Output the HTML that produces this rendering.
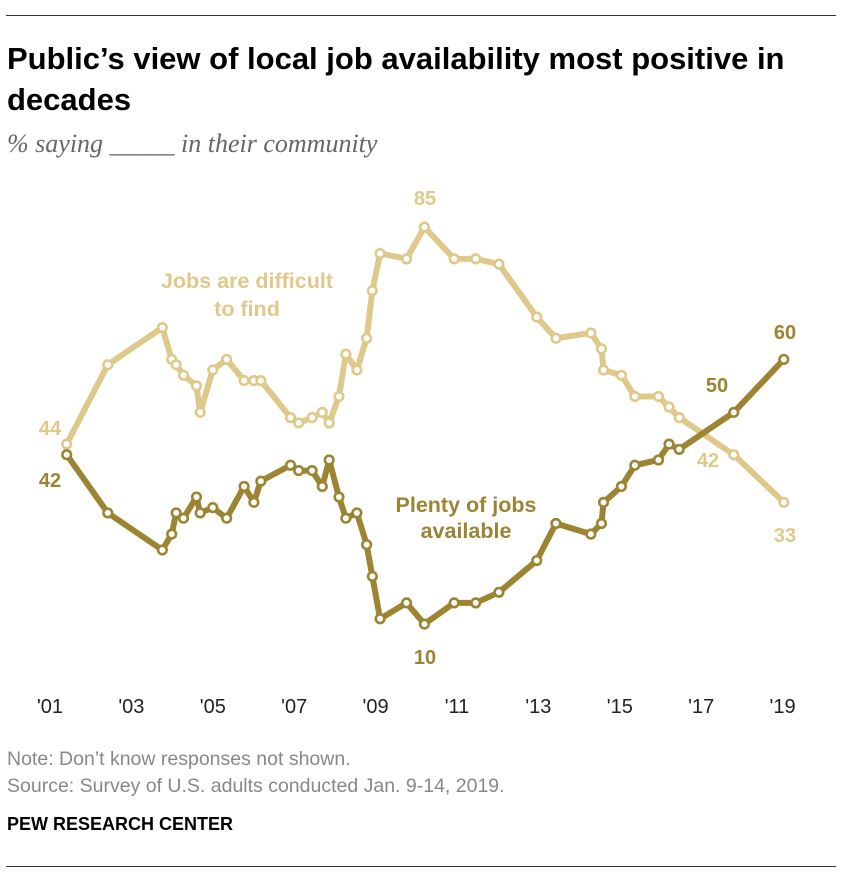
<!DOCTYPE html>
<html><head><meta charset="utf-8"><style>
body{margin:0;background:#fff;font-family:"Liberation Sans",sans-serif;}
#wrap{position:relative;width:842px;height:884px;overflow:hidden;}
.t{position:absolute;white-space:nowrap;}
</style></head><body>
<div id="wrap">
<div style="position:absolute;left:6px;right:6px;top:15px;border-top:1px solid #333"></div>
<div class="t" style="left:7px;top:38px;font-size:31px;font-weight:bold;line-height:41px;color:#000">Public’s view of local job availability most positive in<br>decades</div>
<div class="t" style="left:7px;top:129px;font-family:'Liberation Serif',serif;font-style:italic;font-size:26px;color:#666">% saying _____ in their community</div>
<svg id="chart" width="842" height="884" style="position:absolute;left:0;top:0"></svg>
<div class="t" style="left:7px;top:748px;font-size:19.5px;color:#888">Note: Don’t know responses not shown.</div>
<div class="t" style="left:7px;top:775px;font-size:19.5px;color:#888">Source: Survey of U.S. adults conducted Jan. 9-14, 2019.</div>
<div class="t" style="left:7px;top:814px;font-size:18px;font-weight:bold;color:#000">PEW RESEARCH CENTER</div>
<div style="position:absolute;left:6px;right:6px;top:866px;border-top:1px solid #333"></div>
</div>
<script>
const dates=[2001.41,2002.42,2003.76,2003.99,2004.10,2004.28,2004.6,2004.69,2005.0,2005.34,2005.77,2006.01,2006.18,2006.91,2007.11,2007.44,2007.69,2007.86,2008.1,2008.27,2008.54,2008.78,2008.92,2009.11,2009.76,2010.2,2010.93,2011.46,2012.03,2012.96,2013.43,2014.29,2014.55,2014.6,2015.04,2015.37,2015.95,2016.21,2016.46,2017.8,2019.03];
const difficult=[44,59,66,60,59,57,55,50,58,60,56,56,56,49,48,49,50,48,53,61,58,64,73,80,79,85,79,79,78,68,64,65,62,58,57,53,53,51,49,42,33];
const plenty=[42,31,24,27,31,30,34,31,32,30,36,33,37,40,39,39,36,41,34,30,31,25,19,11,14,10,14,14,16,22,29,27,29,33,36,40,41,44,43,50,60];
const tickLabels=["'01","'03","'05","'07","'09","'11","'13","'15","'17","'19"];
const tickYears=[2001,2003,2005,2007,2009,2011,2013,2015,2017,2019];
const NS="http://www.w3.org/2000/svg";
const svg=document.getElementById('chart');
const xs=yr=>50+(yr-2001)*40.7;
const ys=v=>677-v*5.293;
function mk(tag,attrs){const e=document.createElementNS(NS,tag);for(const k in attrs)e.setAttribute(k,attrs[k]);svg.appendChild(e);return e;}
tickLabels.forEach((l,i)=>{
  const t=mk('text',{x:xs(tickYears[i]),y:713,'text-anchor':'middle','font-size':20,fill:'#222','font-family':'Liberation Sans, sans-serif'});
  t.textContent=l;
  
  
});
function series(vals,color,name){
  const pts=vals.map((v,i)=>xs(dates[i])+','+ys(v)).join(' ');
  const pl=mk('polyline',{points:pts,fill:'none',stroke:color,'stroke-width':6,'stroke-linejoin':'round'});
  
  
  vals.forEach((v,i)=>{
    const c=mk('circle',{cx:xs(dates[i]),cy:ys(v),r:4.3,fill:'#fff',stroke:color,'stroke-width':2.6});
    
    
  });
}
const LIGHT='#dfc98a',DARK='#9c8433';
series(difficult,LIGHT,'jobs-difficult');
series(plenty,DARK,'plenty-of-jobs');
function label(txt,x,y,color,name,fs){
  const t=mk('text',{x:x,y:y,'text-anchor':'middle','font-size':fs||20,'font-weight':'bold',fill:color,'font-family':'Liberation Sans, sans-serif'});
  t.textContent=txt;
  
  
}
const n=dates.length-1;
label(difficult[0],50,435,LIGHT,'difficult-start-value');
label(plenty[0],50,487,DARK,'plenty-start-value');
label(85,425,205,LIGHT,'difficult-peak-value');
label(10,425,664,DARK,'plenty-low-value');
label(plenty[n],785,339,DARK,'plenty-end-value');
label(plenty[n-1],717,392,DARK,'plenty-2018-value');
label(difficult[n-1],708,467,LIGHT,'difficult-2018-value');
label(difficult[n],785,542,LIGHT,'difficult-end-value');
label('Jobs are difficult',247,288,LIGHT,'difficult-series-label',21.5);
label('to find',247,316,LIGHT,'difficult-series-label-2',21.5);
label('Plenty of jobs',466,512,DARK,'plenty-series-label',21.5);
label('available',466,538,DARK,'plenty-series-label-2',21.5);
</script>
</body></html>
